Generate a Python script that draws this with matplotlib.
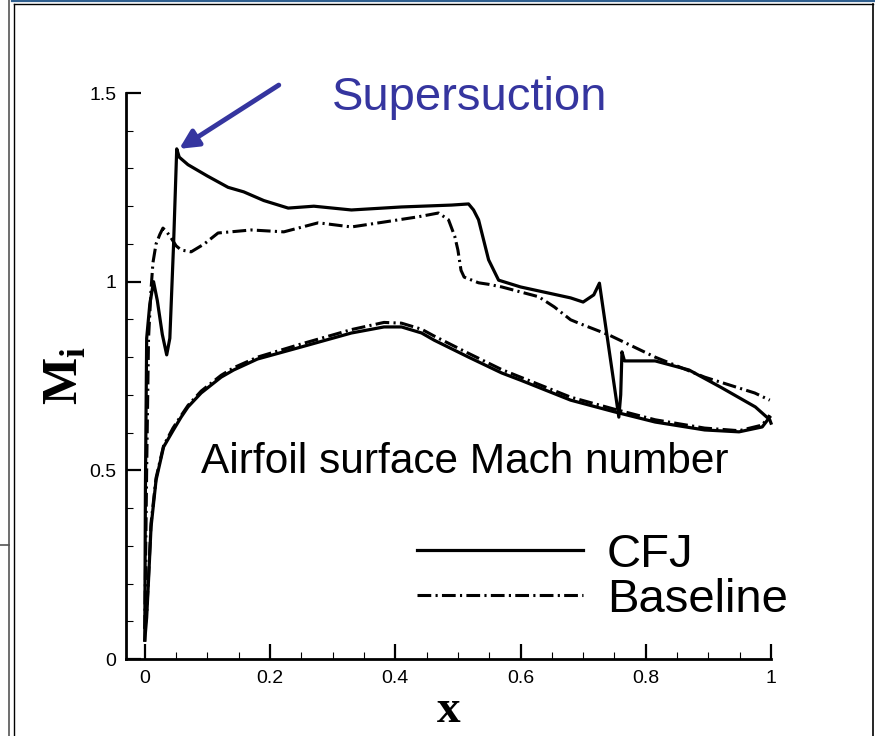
import numpy as np
import matplotlib
matplotlib.use("Agg")
import matplotlib.pyplot as plt
from matplotlib.lines import Line2D
from matplotlib.ticker import MultipleLocator

plt.rcParams['font.family'] = ['Liberation Sans', 'DejaVu Sans']
plt.rcParams['mathtext.fontset'] = 'custom'
plt.rcParams['mathtext.rm'] = 'Liberation Serif'
plt.rcParams['mathtext.bf'] = 'Liberation Serif:bold'

# CFJ airfoil, upper surface
cfj_up_x = [0.000, 0.001, 0.003, 0.008, 0.014, 0.020, 0.028, 0.035, 0.040, 0.046,
            0.051, 0.055, 0.069, 0.100, 0.133, 0.158, 0.190, 0.229, 0.270, 0.330,
            0.410, 0.490, 0.517, 0.525, 0.533, 0.549, 0.565, 0.600, 0.680, 0.700,
            0.717, 0.726, 0.757, 0.760, 0.762, 0.766, 0.815, 0.869, 0.920, 0.975,
            0.998, 1.000]
cfj_up_y = [0.05, 0.45, 0.85, 0.94, 1.00, 0.95, 0.86, 0.806, 0.85, 1.10,
            1.352, 1.33, 1.31, 1.28, 1.250, 1.238, 1.215, 1.195, 1.200, 1.19,
            1.198, 1.203, 1.206, 1.19, 1.164, 1.058, 1.004, 0.986, 0.957, 0.946,
            0.965, 0.996, 0.641, 0.70, 0.814, 0.79, 0.79, 0.766, 0.72, 0.668,
            0.634, 0.625]

# CFJ airfoil, lower surface
cfj_lo_x = [0.000, 0.003, 0.006, 0.010, 0.018, 0.030, 0.045, 0.058, 0.069, 0.090,
            0.122, 0.142, 0.180, 0.250, 0.330, 0.382, 0.410, 0.442, 0.462, 0.517,
            0.570, 0.600, 0.680, 0.750, 0.815, 0.894, 0.949, 0.986, 0.998]
cfj_lo_y = [0.05, 0.11, 0.21, 0.35, 0.474, 0.562, 0.605, 0.641, 0.668, 0.705,
            0.747, 0.766, 0.795, 0.827, 0.864, 0.880, 0.880, 0.864, 0.845, 0.800,
            0.758, 0.739, 0.686, 0.655, 0.628, 0.607, 0.602, 0.615, 0.641]

# baseline airfoil, upper surface
base_up_x = [0.000, 0.003, 0.006, 0.010, 0.013, 0.018, 0.024, 0.029, 0.036, 0.042,
             0.050, 0.058, 0.074, 0.095, 0.117, 0.170, 0.222, 0.277, 0.330, 0.382,
             0.437, 0.469, 0.485, 0.495, 0.500, 0.505, 0.510, 0.533, 0.549, 0.570,
             0.629, 0.654, 0.680, 0.693, 0.741, 0.815, 0.894, 0.974, 0.998]
base_up_y = [0.08, 0.50, 0.85, 0.98, 1.05, 1.10, 1.125, 1.142, 1.13, 1.116,
             1.095, 1.084, 1.079, 1.10, 1.129, 1.137, 1.132, 1.156, 1.145, 1.158,
             1.172, 1.182, 1.164, 1.12, 1.084, 1.03, 1.012, 0.997, 0.993, 0.986,
             0.960, 0.933, 0.899, 0.890, 0.859, 0.800, 0.747, 0.705, 0.686]

# baseline airfoil, lower surface
base_lo_x = cfj_lo_x
base_lo_y = [0.08, 0.12, 0.22, 0.36, 0.48, 0.565, 0.612, 0.645, 0.672, 0.710,
             0.752, 0.772, 0.800, 0.835, 0.873, 0.892, 0.890, 0.874, 0.856, 0.810,
             0.767, 0.747, 0.694, 0.662, 0.634, 0.612, 0.605, 0.620, 0.646]

blue = '#35359f'
dashdot = (0, (4.5, 1.4, 0.7, 1.4))

fig = plt.figure(figsize=(8.75, 7.36), dpi=100)
ax = fig.add_axes([126/875, 77/736, 645/875, 566/736])

# curves
ax.plot(cfj_up_x, cfj_up_y, color='black', lw=2.3, clip_on=False, label='CFJ')
ax.plot(cfj_lo_x, cfj_lo_y, color='black', lw=2.3, clip_on=False)
ax.plot(base_up_x, base_up_y, color='black', lw=2.2, ls=dashdot, clip_on=False, label='Baseline')
ax.plot(base_lo_x, base_lo_y, color='black', lw=2.2, ls=dashdot, clip_on=False)

ax.set_xlim(-0.03, 1.0)
ax.set_ylim(0, 1.5)

# tecplot-like axes: only left and bottom
ax.spines['top'].set_visible(False)
ax.spines['right'].set_visible(False)
ax.spines['left'].set_linewidth(2.0)
ax.spines['bottom'].set_linewidth(2.0)

ax.xaxis.set_minor_locator(MultipleLocator(0.05))
ax.yaxis.set_minor_locator(MultipleLocator(0.1))
ax.set_xticks([0, 0.2, 0.4, 0.6, 0.8, 1.0])
ax.set_xticklabels(['0', '0.2', '0.4', '0.6', '0.8', '1'])
ax.set_yticks([0, 0.5, 1.0, 1.5])
ax.set_yticklabels(['0', '0.5', '1', '1.5'])
ax.tick_params(which='major', direction='in', length=10.5, width=1.6, labelsize=14, pad=8)
ax.tick_params(which='minor', direction='in', length=5, width=0.8)
ax.tick_params(axis='y', which='major', pad=7)

ax.set_xlabel('x', fontsize=34, fontweight='bold', family='Liberation Serif')
ax.xaxis.set_label_coords(0.5, -0.111)
ax.xaxis.label.set_va('baseline')
ax.set_ylabel(r'$\mathbf{M}_\mathbf{i}$', fontsize=36)
ax.yaxis.set_label_coords(-0.059, 0.5)

ax.text(0.0896, 0.493, 'Airfoil surface Mach number', fontsize=30.5,
        ha='left', va='baseline')

# supersuction callout
ax.annotate('', xy=(cfj_up_x[10] + 0.004, cfj_up_y[10]), xytext=(0.214, 1.521),
            annotation_clip=False,
            arrowprops=dict(arrowstyle='-|>', color=blue, lw=3.5,
                            mutation_scale=28, shrinkA=0, shrinkB=0))
ax.text(0.298, 1.455, 'Supersuction', fontsize=34, color=blue,
        ha='left', va='baseline', clip_on=False)

ax.legend(loc='center left', bbox_to_anchor=(0.451, 0.144), frameon=False,
          fontsize=34, handlelength=3.52, handletextpad=0.5,
          labelspacing=0.02, borderpad=0, borderaxespad=0)

# slide frame lines
def fline(x0, y0, x1, y1, color, lw):
    fig.add_artist(Line2D([x0/875, x1/875], [1 - y0/736, 1 - y1/736],
                          color=color, lw=lw, transform=fig.transFigure))

fline(12, 0.6, 875, 0.6, '#2f5f8f', 1.6)
fline(14, 4, 873, 4, 'black', 1.0)
fline(14, 4, 14, 736, 'black', 1.0)
fline(873, 4, 873, 736, 'black', 1.2)
fline(9, 0, 9, 736, '#555555', 1.2)
fline(0, 545, 9, 545, '#555555', 1.2)

fig.savefig('out.png', dpi=100)
